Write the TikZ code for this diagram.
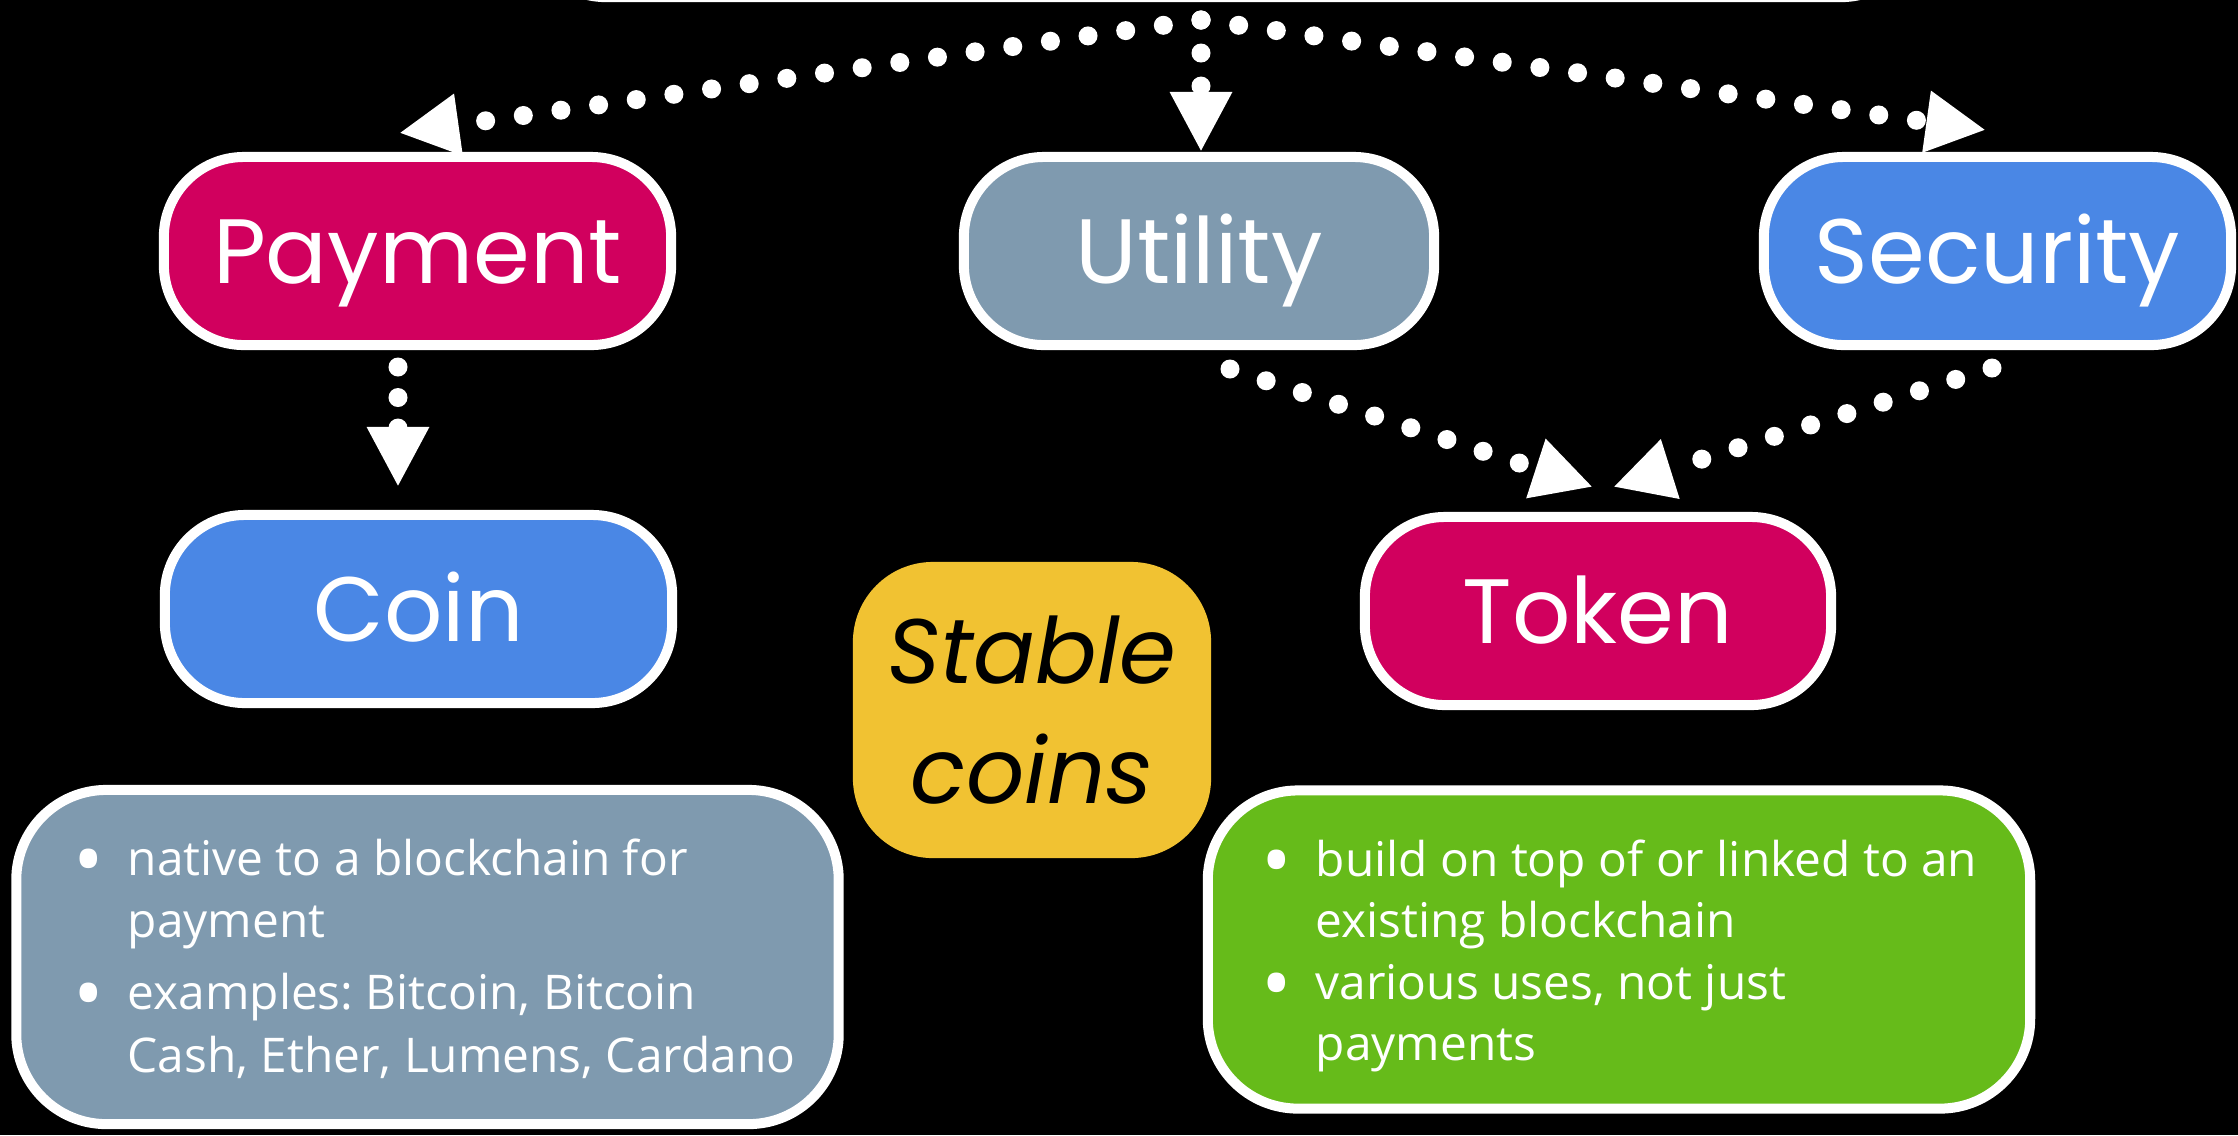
\documentclass[tikz,border=0pt]{standalone}
\usepackage{fontspec}
\setmainfont{Open Sans}
\newfontfamily\titlefont{Poppins}
\usetikzlibrary{arrows.meta}
\frenchspacing
\definecolor{cPay}{HTML}{D1005E}
\definecolor{cUtil}{HTML}{7F9AAF}
\definecolor{cSec}{HTML}{4A87E5}
\definecolor{cGreen}{HTML}{66BB1A}
\definecolor{cStable}{HTML}{F1C232}
\newcommand{\bigbul}{\makebox[5.4mm][l]{\raisebox{-1.3mm}{\scalebox{1.7}{•}}}}
\begin{document}
\begin{tikzpicture}[x=0.01cm,y=-0.01cm,
  pill/.style={draw=white, line width=1mm, rounded corners=8mm, text=white,
    font=\titlefont\fontsize{26}{30}\selectfont, text height=6.4mm, text depth=0mm,
    inner sep=0pt, minimum height=18.8mm},
  infobox/.style={draw=white, line width=1mm, rounded corners=9mm, inner sep=0pt},
  bullettext/.style={anchor=base west, text=white, font=\frenchspacing\fontsize{13.6}{17.4}\selectfont, inner sep=0pt},
  dotline/.style={white, line width=1.9mm, line cap=round, dash pattern=on 0pt off 3.8mm,
    -{Triangle[length=6mm,width=5.8mm]}},
]
\useasboundingbox (0,0) rectangle (2238,1135);
\fill[black] (0,0) rectangle (2238,1135);

% partially visible box at the top
\node[draw=white, line width=1mm, rounded corners=8mm, minimum width=13.95cm,
  minimum height=3cm, inner sep=0pt] (top) at (1223.5,-153) {};
\coordinate (hub) at (1201,20);

% category pills
\node[pill, fill=cPay,  minimum width=50.7mm] (pay)   at (417.5,251) {Payment};
\node[pill, fill=cUtil, minimum width=47mm]   (util)  at (1199,251)  {Utility};
\node[pill, fill=cSec,  minimum width=46.7mm] (sec)   at (1997.5,251) {Security};
\node[pill, fill=cSec,  minimum width=50.7mm] (coin)  at (418.5,609) {Coin};
\node[pill, fill=cPay,  minimum width=46.6mm] (token) at (1598,611)  {Token};

% stable coins
\node[fill=cStable, rounded corners=8mm, minimum width=35.8mm, minimum height=29.6mm,
  inner sep=0pt, align=center, text=black,
  font=\titlefont\itshape\fontsize{26}{33.9}\selectfont] (stable) at (1032,710) {Stable\\coins};

% info boxes
\node[infobox, fill=cUtil,  minimum width=82.2mm, minimum height=33.4mm] (coininfo)  at (427.5,957) {};
\node[infobox, fill=cGreen, minimum width=82.2mm, minimum height=31.8mm] (tokeninfo) at (1619,949.5) {};

\node[bullettext] (c1a) at (73,875)  {\bigbul native to a blockchain for};
\node[bullettext] (c1b) at (127,937) {payment};
\node[bullettext] (c2a) at (73,1009) {\bigbul examples: Bitcoin, Bitcoin};
\node[bullettext] (c2b) at (127,1072) {Cash, Ether, Lumens, Cardano};

\node[bullettext] (t1a) at (1261,876)  {\bigbul build on top of or linked to an};
\node[bullettext] (t1b) at (1315,937)  {existing blockchain};
\node[bullettext] (t2a) at (1261,999)  {\bigbul various uses, not just};
\node[bullettext] (t2b) at (1315,1060) {payments};

% connector end points
\coordinate (payTip)  at (399,133);
\coordinate (utilTip) at (1201,152);
\coordinate (secTip)  at (1986,130);
\coordinate (payOut)  at (398,367);
\coordinate (coinTip) at (398,487);
\coordinate (utilOut) at (1230,369);
\coordinate (tokTipL) at (1593,487);
\coordinate (secOut)  at (1992,368);
\coordinate (tokTipR) at (1613,487);

\draw[dotline] (hub) -- (payTip);
\draw[dotline, dash pattern=on 0pt off 3.3mm] (hub) -- (utilTip);
\draw[dotline] (hub) -- (secTip);
\draw[dotline, dash pattern=on 0pt off 3.05mm] (payOut) -- (coinTip);
\draw[dotline] (utilOut) -- (tokTipL);
\draw[dotline] (secOut) -- (tokTipR);
\end{tikzpicture}
\end{document}
